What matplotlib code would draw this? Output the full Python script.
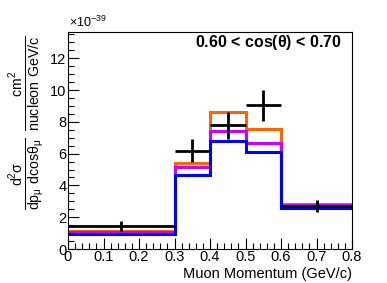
import numpy as np
import matplotlib.pyplot as plt
from matplotlib.ticker import MultipleLocator

plt.rcParams['font.family'] = ['Liberation Sans', 'DejaVu Sans']
plt.rcParams['mathtext.fontset'] = 'custom'
plt.rcParams['mathtext.rm'] = 'Liberation Sans'
plt.rcParams['mathtext.default'] = 'regular'

edges = [0.0, 0.3, 0.4, 0.5, 0.6, 0.8]
centers = [0.15, 0.35, 0.45, 0.55, 0.7]
data = [1.45, 6.19, 7.77, 9.03, 2.72]
data_err = [0.3, 0.74, 0.84, 0.95, 0.36]
orange = [1.12, 5.39, 8.59, 7.56, 2.82]
magenta = [1.08, 5.18, 7.45, 6.65, 2.74]
blue = [0.97, 4.67, 6.78, 6.13, 2.61]

xticks = [0, 0.1, 0.2, 0.3, 0.4, 0.5, 0.6, 0.7, 0.8]
xticklabels = ['0', '0.1', '0.2', '0.3', '0.4', '0.5', '0.6', '0.7', '0.8']
yticks = [0, 2, 4, 6, 8, 10, 12]

fig = plt.figure(figsize=(3.87, 2.83), dpi=100)
ax = fig.add_axes([0.1757, 0.12, 0.734, 0.767])

ax.stairs(orange, edges, color='#ff6600', lw=2.2, baseline=None)
ax.stairs(magenta, edges, color='#cc00ff', lw=2.2, baseline=None)
ax.stairs(blue, edges, color='#0000ff', lw=2.2, baseline=None)

xerr = [(edges[i+1] - edges[i]) / 2 for i in range(len(centers))]
ax.errorbar(centers, data, xerr=xerr, yerr=data_err, fmt='none', ecolor='black',
            elinewidth=2.0, capsize=0)

ax.set_xlim(0, 0.8)
ax.set_ylim(0, 13.65)
ax.set_xticks(xticks)
ax.set_xticklabels(xticklabels)
ax.set_yticks(yticks)
ax.set_yticklabels([str(v) for v in yticks])
ax.xaxis.set_minor_locator(MultipleLocator(0.02))
ax.yaxis.set_minor_locator(MultipleLocator(0.5))
ax.tick_params(which='both', direction='in', top=False, right=False, labelsize=10.5, pad=1)
ax.tick_params(which='major', length=8, width=0.8)
ax.tick_params(which='minor', length=4, width=0.8)

fig.text(0.9096, 0.032, 'Muon Momentum (GeV/c)', fontsize=10.5, ha='right', va='center')
fig.text(0.02, 0.565,
         r'$\frac{d^{2}\sigma}{dp_{\mu}\ dcos\theta_{\mu}}\ \frac{cm^{2}}{nucleon\ GeV/c}$',
         rotation=90, fontsize=14.5, ha='left', va='center')
fig.text(0.178, 0.893, r'$\times10^{-39}$', fontsize=9, va='bottom')
ax.text(0.965, 0.95, r'0.60 < cos($\theta$) < 0.70', transform=ax.transAxes,
        ha='right', va='center', fontsize=11.5, fontweight='bold')

fig.savefig('out.png', dpi=100)
